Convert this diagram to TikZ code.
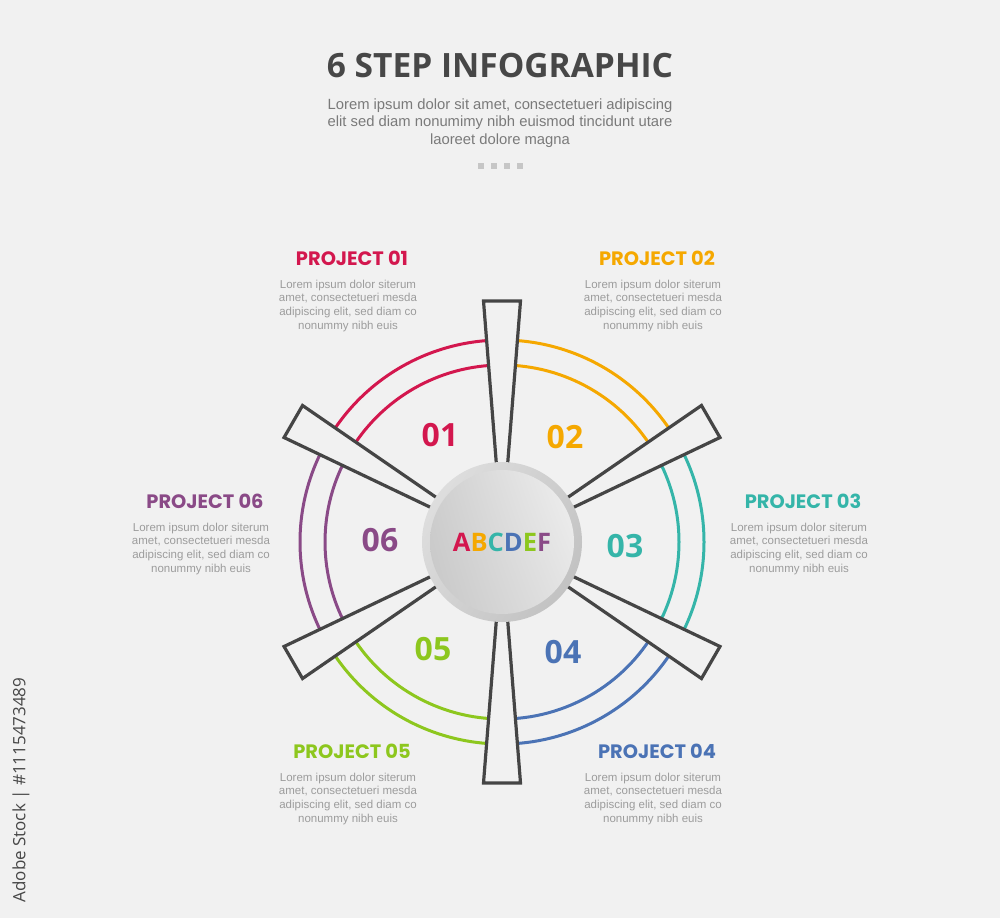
\documentclass[tikz,border=0pt]{standalone}
\usepackage{fontspec}
\setmainfont{Liberation Sans}
\newfontfamily\headfont{Open Sans}
\newfontfamily\popfont{Poppins}
\usetikzlibrary{positioning,shadings}
\definecolor{bg}{HTML}{F1F1F1}
\definecolor{spokegray}{HTML}{454545}
\definecolor{titlegray}{HTML}{474747}
\definecolor{subgray}{HTML}{7A7A7A}
\definecolor{bodygray}{HTML}{9C9C9C}
\definecolor{dotgray}{HTML}{C6C6C6}
\definecolor{pred}{HTML}{D3174E}
\definecolor{porange}{HTML}{F5A800}
\definecolor{pteal}{HTML}{35B5A9}
\definecolor{pblue}{HTML}{4B73B5}
\definecolor{pgreen}{HTML}{8DC71E}
\definecolor{ppurple}{HTML}{8A4A87}
\begin{document}
\begin{tikzpicture}[x=1pt, y=1pt,
    every node/.style={inner sep=0pt},
    ring/.style={line width=3pt},
    spoke/.style={draw=spokegray, fill=bg, line width=3.2pt, line join=miter},
    num/.style={font=\headfont\bfseries\fontsize{32}{32}\selectfont},
    ptitle/.style={font=\popfont\bfseries\fontsize{19.4}{19.4}\selectfont},
    ptext/.style={align=center, text=bodygray, font=\fontsize{11.5}{13.7}\selectfont}]
    \fill [bg] (0,0) rectangle (1000,-918);
    \useasboundingbox (0,0) rectangle (1000,-918);
    \coordinate (c) at (502,-542);
    \node [font=\headfont\bfseries\fontsize{33.5}{33.5}\selectfont, text=titlegray] (title) at (500,-66) {6 STEP INFOGRAPHIC};
    \node [align=center, text=subgray, font=\fontsize{14.8}{17.5}\selectfont, below=20pt of title] (subtitle) {Lorem ipsum dolor sit amet, consectetueri adipiscing\\elit sed diam nonumimy nibh euismod tincidunt utare\\laoreet dolore magna};
    \fill [dotgray] (478,-163) rectangle (484,-169);
    \fill [dotgray] (491,-163) rectangle (497,-169);
    \fill [dotgray] (504,-163) rectangle (510,-169);
    \fill [dotgray] (517,-163) rectangle (523,-169);
    \draw [ring, pred] ([shift={(90:202)}]c) arc [start angle=90, end angle=150, radius=202];
    \draw [ring, pred] ([shift={(90:177)}]c) arc [start angle=90, end angle=150, radius=177];
    \draw [ring, porange] ([shift={(30:202)}]c) arc [start angle=30, end angle=90, radius=202];
    \draw [ring, porange] ([shift={(30:177)}]c) arc [start angle=30, end angle=90, radius=177];
    \draw [ring, pteal] ([shift={(-30:202)}]c) arc [start angle=-30, end angle=30, radius=202];
    \draw [ring, pteal] ([shift={(-30:177)}]c) arc [start angle=-30, end angle=30, radius=177];
    \draw [ring, pblue] ([shift={(-90:202)}]c) arc [start angle=-90, end angle=-30, radius=202];
    \draw [ring, pblue] ([shift={(-90:177)}]c) arc [start angle=-90, end angle=-30, radius=177];
    \draw [ring, pgreen] ([shift={(-150:202)}]c) arc [start angle=-150, end angle=-90, radius=202];
    \draw [ring, pgreen] ([shift={(-150:177)}]c) arc [start angle=-150, end angle=-90, radius=177];
    \draw [ring, ppurple] ([shift={(150:202)}]c) arc [start angle=150, end angle=210, radius=202];
    \draw [ring, ppurple] ([shift={(150:177)}]c) arc [start angle=150, end angle=210, radius=177];
    \draw [spoke, shift={(c)}, rotate=90] (70,-5) -- (241,-18.5) -- (241,18.5) -- (70,5) -- cycle;
    \draw [spoke, shift={(c)}, rotate=30] (70,-5) -- (241,-18.5) -- (241,18.5) -- (70,5) -- cycle;
    \draw [spoke, shift={(c)}, rotate=-30] (70,-5) -- (241,-18.5) -- (241,18.5) -- (70,5) -- cycle;
    \draw [spoke, shift={(c)}, rotate=-90] (70,-5) -- (241,-18.5) -- (241,18.5) -- (70,5) -- cycle;
    \draw [spoke, shift={(c)}, rotate=-150] (70,-5) -- (241,-18.5) -- (241,18.5) -- (70,5) -- cycle;
    \draw [spoke, shift={(c)}, rotate=150] (70,-5) -- (241,-18.5) -- (241,18.5) -- (70,5) -- cycle;
    \shade [upper left=gray!22, upper right=gray!40, lower left=gray!34, lower right=gray!52] (c) circle (80);
    \shade [upper left=gray!38, lower left=gray!44, upper right=gray!12, lower right=gray!22] (c) circle (72);
    \node [font=\headfont\bfseries\fontsize{25.5}{25.5}\selectfont] (hub) at (c) {\textcolor{pred}{A}\textcolor{porange}{B}\textcolor{pteal}{C}\textcolor{pblue}{D}\textcolor{pgreen}{E}\textcolor{ppurple}{F}};
    \node [num, text=pred] (n01) at (440,-435) {01};
    \node [num, text=porange] (n02) at (565,-437) {02};
    \node [num, text=pteal] (n03) at (625,-546) {03};
    \node [num, text=pblue] (n04) at (563,-652) {04};
    \node [num, text=pgreen] (n05) at (433,-649) {05};
    \node [num, text=ppurple] (n06) at (380,-540) {06};
    \node [ptitle, text=pred] (p01title) at (352,-258) {PROJECT 01};
    \node [ptext, below=14pt of p01title, xshift=-4pt] (p01text) {Lorem ipsum dolor siterum\\amet, consectetueri mesda\\adipiscing elit, sed diam co\\nonummy nibh euis};
    \node [ptitle, text=porange] (p02title) at (657,-258) {PROJECT 02};
    \node [ptext, below=14pt of p02title, xshift=-4pt] (p02text) {Lorem ipsum dolor siterum\\amet, consectetueri mesda\\adipiscing elit, sed diam co\\nonummy nibh euis};
    \node [ptitle, text=pteal] (p03title) at (803,-501) {PROJECT 03};
    \node [ptext, below=14pt of p03title, xshift=-4pt] (p03text) {Lorem ipsum dolor siterum\\amet, consectetueri mesda\\adipiscing elit, sed diam co\\nonummy nibh euis};
    \node [ptitle, text=pblue] (p04title) at (657,-751) {PROJECT 04};
    \node [ptext, below=14pt of p04title, xshift=-4pt] (p04text) {Lorem ipsum dolor siterum\\amet, consectetueri mesda\\adipiscing elit, sed diam co\\nonummy nibh euis};
    \node [ptitle, text=pgreen] (p05title) at (352,-751) {PROJECT 05};
    \node [ptext, below=14pt of p05title, xshift=-4pt] (p05text) {Lorem ipsum dolor siterum\\amet, consectetueri mesda\\adipiscing elit, sed diam co\\nonummy nibh euis};
    \node [ptitle, text=ppurple] (p06title) at (205,-501) {PROJECT 06};
    \node [ptext, below=14pt of p06title, xshift=-4pt] (p06text) {Lorem ipsum dolor siterum\\amet, consectetueri mesda\\adipiscing elit, sed diam co\\nonummy nibh euis};
    \node [rotate=90, text=titlegray, font=\headfont\fontsize{17}{17}\selectfont] (stockid) at (21,-790) {Adobe Stock | \#1115473489};
\end{tikzpicture}
\end{document}
